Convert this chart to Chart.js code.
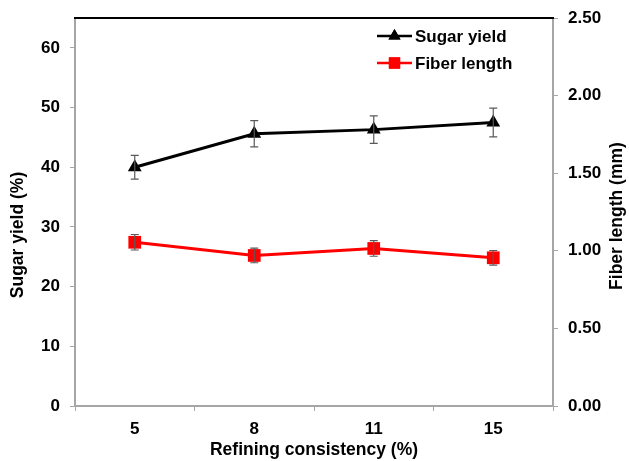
<!DOCTYPE html>
<html>
<head>
<meta charset="utf-8">
<script src="https://cdn.jsdelivr.net/npm/chart.js@4/dist/chart.umd.min.js"></script>
<style>
  html, body { margin: 0; padding: 0; background: #fff; }
  #wrap { width: 629px; height: 461px; position: relative; }
</style>
</head>
<body>
<div id="wrap"><canvas id="c" width="629" height="461"></canvas></div>
<script>
// Refining consistency categories
const consistency = ['5', '8', '11', '15'];
// Sugar yield (%) with standard deviation
const sugarYield = [40.0, 45.6, 46.3, 47.5];
const sugarErr = [2.0, 2.2, 2.3, 2.4];
// Fiber length (mm) with standard deviation
const fiberLength = [1.055, 0.97, 1.015, 0.955];
const fiberErr = [0.05, 0.047, 0.05, 0.047];
// Axis tick values
const leftTicks = [0, 10, 20, 30, 40, 50, 60];
const rightTicks = [0, 0.5, 1.0, 1.5, 2.0, 2.5];

const FONT = 'Liberation Sans, Arial, sans-serif';
const FS = 17;
const TITLE_FS = 17.5;
const AXIS_GRAY = '#a6a6a6';

// Error bars drawn from the dataset values through the chart scales
const errorBars = {
  id: 'errorBars',
  afterDatasetsDraw(chart) {
    const ctx = chart.ctx;
    const x = chart.scales.x;
    const sets = [
      { vals: sugarYield, err: sugarErr, scale: chart.scales.y },
      { vals: fiberLength, err: fiberErr, scale: chart.scales.y2 }
    ];
    ctx.save();
    ctx.strokeStyle = '#5a5a5a';
    ctx.lineWidth = 1.2;
    sets.forEach(s => {
      s.vals.forEach((v, i) => {
        const px = x.getPixelForValue(i);
        const top = s.scale.getPixelForValue(v + s.err[i]);
        const bot = s.scale.getPixelForValue(v - s.err[i]);
        ctx.beginPath();
        ctx.moveTo(px, top); ctx.lineTo(px, bot);
        ctx.moveTo(px - 4, top); ctx.lineTo(px + 4, top);
        ctx.moveTo(px - 4, bot); ctx.lineTo(px + 4, bot);
        ctx.stroke();
      });
    });
    ctx.restore();
  }
};

function verticalTitle(ctx, text, x, y) {
  ctx.save();
  ctx.translate(x, y);
  ctx.rotate(-Math.PI / 2);
  ctx.fillStyle = '#000';
  ctx.font = 'bold ' + TITLE_FS + 'px ' + FONT;
  ctx.textAlign = 'center';
  ctx.textBaseline = 'middle';
  ctx.fillText(text, 0, 0);
  ctx.restore();
}

// Frame top edge, legend and both axis titles
const decorations = {
  id: 'decorations',
  afterDraw(chart) {
    const ctx = chart.ctx;
    const a = chart.chartArea;
    ctx.save();
    // top edge of the plot frame
    ctx.strokeStyle = '#000';
    ctx.lineWidth = 2;
    ctx.beginPath();
    ctx.moveTo(a.left - 1, a.top);
    ctx.lineTo(a.right + 1, a.top);
    ctx.stroke();

    // legend
    const items = [
      { label: 'Sugar yield', color: '#000', style: 'triangle', r: 7, y: 36 },
      { label: 'Fiber length', color: '#ff0000', style: 'rect', r: 8, y: 63 }
    ];
    items.forEach(it => {
      ctx.strokeStyle = it.color;
      ctx.lineWidth = 2.5;
      ctx.beginPath();
      ctx.moveTo(377, it.y);
      ctx.lineTo(412, it.y);
      ctx.stroke();
      ctx.fillStyle = it.color;
      Chart.helpers.drawPoint(ctx, { pointStyle: it.style, radius: it.r, borderWidth: 0 }, 394.5, it.y);
      ctx.fill();
      ctx.fillStyle = '#000';
      ctx.font = 'bold ' + FS + 'px ' + FONT;
      ctx.textAlign = 'left';
      ctx.textBaseline = 'middle';
      ctx.fillText(it.label, 415, it.y + 1);
    });
    ctx.restore();

    // axis titles, reading bottom to top
    verticalTitle(ctx, 'Sugar yield (%)', 18.5, 235);
    verticalTitle(ctx, 'Fiber length (mm)', 617, 216);
  }
};

new Chart(document.getElementById('c'), {
  type: 'line',
  data: {
    labels: consistency,
    datasets: [
      {
        label: 'Sugar yield',
        data: sugarYield,
        yAxisID: 'y',
        borderColor: '#000',
        backgroundColor: '#000',
        borderWidth: 3,
        pointStyle: 'triangle',
        pointRadius: 8,
        pointBorderWidth: 0,
        tension: 0
      },
      {
        label: 'Fiber length',
        data: fiberLength,
        yAxisID: 'y2',
        borderColor: '#ff0000',
        backgroundColor: '#ff0000',
        borderWidth: 3,
        pointStyle: 'rect',
        pointRadius: 9,
        pointBorderWidth: 0,
        tension: 0
      }
    ]
  },
  options: {
    responsive: false,
    animation: false,
    devicePixelRatio: 1,
    layout: { padding: { top: 18, left: 0, right: 0, bottom: 0 } },
    plugins: {
      legend: { display: false },
      tooltip: { enabled: false }
    },
    scales: {
      x: {
        type: 'category',
        offset: true,
        grid: {
          offset: true,
          drawOnChartArea: false,
          drawTicks: true,
          tickLength: 5,
          color: AXIS_GRAY,
          lineWidth: 1
        },
        border: { display: true, color: AXIS_GRAY, width: 2 },
        ticks: {
          color: '#000',
          font: { family: FONT, size: FS, weight: 'bold' },
          padding: 8
        },
        title: {
          display: true,
          text: 'Refining consistency (%)',
          color: '#000',
          font: { family: FONT, size: TITLE_FS, weight: 'bold' },
          padding: { top: 0, bottom: 0 }
        },
        afterFit(s) { s.height = 55; s.paddingLeft = 0; s.paddingRight = 0; }
      },
      y: {
        position: 'left',
        min: 0,
        max: 65,
        afterBuildTicks(s) { s.ticks = leftTicks.map(v => ({ value: v })); },
        grid: {
          drawOnChartArea: false,
          drawTicks: true,
          tickLength: 5,
          color: AXIS_GRAY,
          lineWidth: 1
        },
        border: { display: true, color: AXIS_GRAY, width: 2 },
        ticks: {
          color: '#000',
          font: { family: FONT, size: FS, weight: 'bold' },
          padding: 10,
          callback: v => String(v)
        },
        afterFit(s) { s.width = 75; s.paddingTop = 0; s.paddingBottom = 0; }
      },
      y2: {
        position: 'right',
        min: 0,
        max: 2.5,
        afterBuildTicks(s) { s.ticks = rightTicks.map(v => ({ value: v })); },
        grid: {
          drawOnChartArea: false,
          drawTicks: true,
          tickLength: 5,
          color: AXIS_GRAY,
          lineWidth: 1
        },
        border: { display: true, color: AXIS_GRAY, width: 2 },
        ticks: {
          color: '#000',
          font: { family: FONT, size: FS, weight: 'bold' },
          padding: 10,
          callback: v => Number(v).toFixed(2)
        },
        afterFit(s) { s.width = 76; s.paddingTop = 0; s.paddingBottom = 0; }
      }
    }
  },
  plugins: [errorBars, decorations]
});
</script>
</body>
</html>
